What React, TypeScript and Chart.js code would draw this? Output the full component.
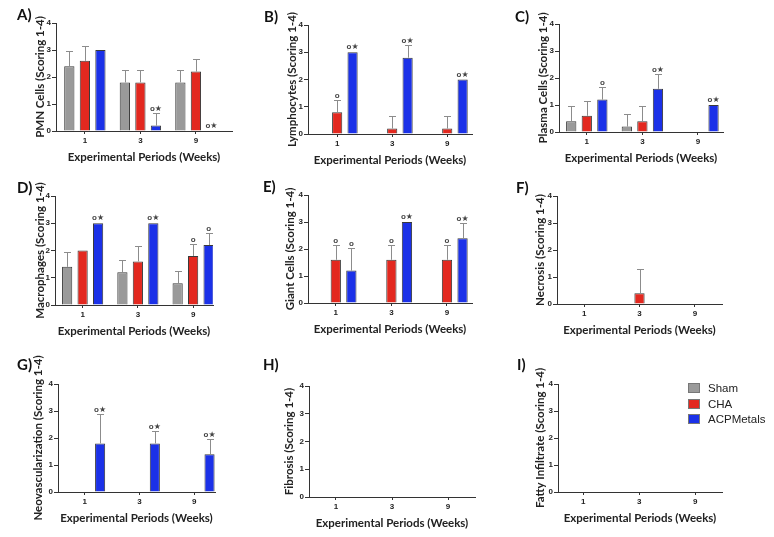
import React, { useEffect, useRef } from "react";
import { Chart, registerables } from "chart.js";

Chart.register(...registerables);

// ---------- data ----------
const weekLabels = ["1", "3", "9"];
const groupNames = ["Sham", "CHA", "ACPMetals"];
const groupColors = ["#9a9a9a", "#e3281f", "#1b31e8"];
const xAxisTitle = "Experimental Periods (Weeks)";

// rows: Sham, CHA, ACPMetals ; columns: weeks 1, 3, 9
const pmnMeans = [[2.4, 1.8, 1.8], [2.6, 1.8, 2.2], [3.0, 0.2, 0]];
const pmnSD = [[0.55, 0.45, 0.45], [0.55, 0.45, 0.45], [0, 0.45, 0]];
const pmnMarks = [["", "", ""], ["", "", ""], ["", "o★", "o★"]];

const lymphMeans = [[0, 0, 0], [0.8, 0.2, 0.2], [3.0, 2.8, 2.0]];
const lymphSD = [[0, 0, 0], [0.45, 0.45, 0.45], [0, 0.45, 0]];
const lymphMarks = [["", "", ""], ["o", "", ""], ["o★", "o★", "o★"]];

const plasmaMeans = [[0.4, 0.2, 0], [0.6, 0.4, 0], [1.2, 1.6, 1.0]];
const plasmaSD = [[0.55, 0.45, 0], [0.55, 0.55, 0], [0.45, 0.55, 0]];
const plasmaMarks = [["", "", ""], ["", "", ""], ["o", "o★", "o★"]];

const macroMeans = [[1.4, 1.2, 0.8], [2.0, 1.6, 1.8], [3.0, 3.0, 2.2]];
const macroSD = [[0.55, 0.45, 0.45], [0, 0.55, 0.45], [0, 0, 0.45]];
const macroMarks = [["", "", ""], ["", "", "o"], ["o★", "o★", "o"]];

const giantMeans = [[0, 0, 0], [1.6, 1.6, 1.6], [1.2, 3.0, 2.4]];
const giantSD = [[0, 0, 0], [0.55, 0.55, 0.55], [0.85, 0, 0.55]];
const giantMarks = [["", "", ""], ["o", "o", "o"], ["o", "o★", "o★"]];

const necrosisMeans = [[0, 0, 0], [0, 0.4, 0], [0, 0, 0]];
const necrosisSD = [[0, 0, 0], [0, 0.9, 0], [0, 0, 0]];
const necrosisMarks = [["", "", ""], ["", "", ""], ["", "", ""]];

const neoMeans = [[0, 0, 0], [0, 0, 0], [1.8, 1.8, 1.4]];
const neoSD = [[0, 0, 0], [0, 0, 0], [1.1, 0.45, 0.55]];
const neoMarks = [["", "", ""], ["", "", ""], ["o★", "o★", "o★"]];

const fibrosisMeans = [[0, 0, 0], [0, 0, 0], [0, 0, 0]];
const fibrosisSD = [[0, 0, 0], [0, 0, 0], [0, 0, 0]];
const fibrosisMarks = [["", "", ""], ["", "", ""], ["", "", ""]];

const fattyMeans = [[0, 0, 0], [0, 0, 0], [0, 0, 0]];
const fattySD = [[0, 0, 0], [0, 0, 0], [0, 0, 0]];
const fattyMarks = [["", "", ""], ["", "", ""], ["", "", ""]];

// ---------- layout ----------
type Panel = {
  letter: string;
  yTitle: string;
  means: number[][];
  sds: number[][];
  marks: string[][];
  L: number; T: number; R: number; B: number;
  xMin: number; xMax: number;
  ytOff: number;
  lx: number; ly: number;
};

const panels: Panel[] = [
  { letter: "A)", yTitle: "PMN Cells (Scoring 1-4)", means: pmnMeans, sds: pmnSD, marks: pmnMarks, L: 56, T: 23, R: 232, B: 131, xMin: -0.52, xMax: 2.65, ytOff: 16, lx: 17, ly: 10 },
  { letter: "B)", yTitle: "Lymphocytes (Scoring 1-4)", means: lymphMeans, sds: lymphSD, marks: lymphMarks, L: 308, T: 25, R: 472, B: 134, xMin: -0.53, xMax: 2.45, ytOff: 16, lx: 264, ly: 12 },
  { letter: "C)", yTitle: "Plasma Cells (Scoring 1-4)", means: plasmaMeans, sds: plasmaSD, marks: plasmaMarks, L: 559, T: 24, R: 723, B: 132, xMin: -0.5, xMax: 2.45, ytOff: 16, lx: 515, ly: 12 },
  { letter: "D)", yTitle: "Macrophages (Scoring 1-4)", means: macroMeans, sds: macroSD, marks: macroMarks, L: 55, T: 196, R: 213, B: 305, xMin: -0.5, xMax: 2.36, ytOff: 15, lx: 17, ly: 183 },
  { letter: "E)", yTitle: "Giant Cells (Scoring 1-4)", means: giantMeans, sds: giantSD, marks: giantMarks, L: 308, T: 195, R: 472, B: 303, xMin: -0.5, xMax: 2.45, ytOff: 18, lx: 263, ly: 182 },
  { letter: "F)", yTitle: "Necrosis (Scoring 1-4)", means: necrosisMeans, sds: necrosisSD, marks: necrosisMarks, L: 557, T: 196, R: 722, B: 304, xMin: -0.49, xMax: 2.49, ytOff: 17, lx: 516, ly: 183 },
  { letter: "G)", yTitle: "Neovascularization (Scoring 1-4)", means: neoMeans, sds: neoSD, marks: neoMarks, L: 58, T: 384, R: 215, B: 492, xMin: -0.49, xMax: 2.38, ytOff: 20, lx: 17, ly: 360 },
  { letter: "H)", yTitle: "Fibrosis (Scoring 1-4)", means: fibrosisMeans, sds: fibrosisSD, marks: fibrosisMarks, L: 309, T: 386, R: 475, B: 497, xMin: -0.48, xMax: 2.48, ytOff: 20, lx: 263, ly: 360 },
  { letter: "I)", yTitle: "Fatty Infiltrate (Scoring 1-4)", means: fattyMeans, sds: fattySD, marks: fattyMarks, L: 558, T: 384, R: 722, B: 492, xMin: -0.45, xMax: 2.48, ytOff: 18, lx: 517, ly: 360 },
];

const Y_W = 30;
const X_H = 36;
const M_LEFT = 56;
const M_TOP = 32;
const M_RIGHT = 12;
const M_BOTTOM = 42;
const TITLE_SIZE = 11.5;
const TITLE_LH = TITLE_SIZE * 1.2;

function PanelChart({ p }: { p: Panel }) {
  const ref = useRef<HTMLCanvasElement>(null);
  const cw = p.R - p.L + M_LEFT + M_RIGHT;
  const ch = p.B - p.T + M_TOP + M_BOTTOM;

  useEffect(() => {
    if (!ref.current) return;
    const errPlugin = {
      id: "errbarsMarks",
      afterDatasetsDraw(chart: any) {
        const ctx = chart.ctx;
        const ys = chart.scales.y;
        ctx.save();
        chart.data.datasets.forEach((_ds: any, di: number) => {
          const meta = chart.getDatasetMeta(di);
          meta.data.forEach((el: any, i: number) => {
            const v = p.means[di][i];
            const e = p.sds[di][i];
            let topPx = el.y;
            const cx = Math.round(el.x) + 0.5;
            if (e > 0) {
              const ep = Math.round(ys.getPixelForValue(v + e)) + 0.5;
              ctx.strokeStyle = "#8c8c8c";
              ctx.lineWidth = 1;
              ctx.beginPath();
              ctx.moveTo(cx, el.y);
              ctx.lineTo(cx, ep);
              ctx.moveTo(cx - 3.5, ep);
              ctx.lineTo(cx + 3.5, ep);
              ctx.stroke();
              topPx = ep;
            }
            const m = p.marks[di][i];
            if (m) {
              ctx.fillStyle = "#444";
              ctx.font = "bold 8px 'Liberation Sans', 'DejaVu Sans'";
              ctx.textAlign = "center";
              ctx.textBaseline = "bottom";
              ctx.fillText(m, el.x, topPx - 1);
            }
          });
        });
        ctx.restore();
      },
    };

    const tickFont = { family: "'Liberation Sans', Arial, sans-serif", weight: "bold" as const, size: 8 };
    const titleFont = { family: "Lato, 'Open Sans', sans-serif", weight: "bold" as const, size: TITLE_SIZE, lineHeight: 1.2 };

    const chart = new Chart(ref.current, {
      type: "bar",
      data: {
        datasets: groupNames.map((g, di) => ({
          label: g,
          data: p.means[di].map((v, i) => ({ x: i, y: v })),
          backgroundColor: groupColors[di],
          borderColor: "#3a3a3a",
          borderWidth: 1,
          categoryPercentage: 0.84,
          barPercentage: 0.66,
        })),
      },
      options: {
        animation: false,
        responsive: false,
        layout: {
          padding: { left: M_LEFT - Y_W, top: M_TOP, right: M_RIGHT, bottom: M_BOTTOM - X_H },
        },
        plugins: { legend: { display: false }, tooltip: { enabled: false } },
        scales: {
          x: {
            type: "linear",
            offset: false,
            min: p.xMin,
            max: p.xMax,
            afterBuildTicks: (s: any) => {
              s.ticks = weekLabels.map((_w, i) => ({ value: i }));
            },
            afterFit: (s: any) => {
              s.height = X_H;
            },
            ticks: {
              callback: (_v: any, i: number) => weekLabels[i],
              font: tickFont,
              color: "#222",
              padding: 2,
              maxRotation: 0,
              autoSkip: false,
            },
            grid: { display: true, offset: false, drawOnChartArea: false, drawTicks: true, tickLength: 3, color: "#333", lineWidth: 1 },
            border: { display: true, color: "#333", width: 1 },
            title: {
              display: true,
              text: xAxisTitle,
              font: titleFont,
              color: "#222",
              padding: { top: 0, bottom: X_H - 26 - TITLE_LH / 2 },
            },
          },
          y: {
            type: "linear",
            min: 0,
            max: 4,
            afterFit: (s: any) => {
              s.width = Y_W;
            },
            ticks: { stepSize: 1, font: tickFont, color: "#222", padding: 1 },
            grid: { display: true, drawOnChartArea: false, drawTicks: true, tickLength: 4, color: "#333", lineWidth: 1 },
            border: { display: true, color: "#333", width: 1 },
            title: {
              display: true,
              text: p.yTitle,
              font: titleFont,
              color: "#222",
              padding: { top: Y_W - p.ytOff - TITLE_LH / 2, bottom: 0 },
            },
          },
        },
      } as any,
      plugins: [errPlugin],
    });
    return () => chart.destroy();
  }, []);

  return (
    <canvas
      ref={ref}
      width={cw}
      height={ch}
      style={{ position: "absolute", left: p.L - M_LEFT, top: p.T - M_TOP, width: cw, height: ch }}
    />
  );
}

export default function App() {
  return (
    <div style={{ position: "fixed", left: 0, top: 0, width: 774, height: 537, background: "#fff", overflow: "hidden" }}>
      {panels.map((p) => (
        <PanelChart key={p.letter} p={p} />
      ))}
      {panels.map((p) => (
        <div
          key={"l" + p.letter}
          style={{
            position: "absolute",
            left: p.lx,
            top: p.ly - 2.6,
            font: "bold 15px Lato, 'Open Sans', sans-serif",
            lineHeight: "15px",
            color: "#111",
          }}
        >
          {p.letter}
        </div>
      ))}
      {groupNames.map((g, i) => (
        <div
          key={"lg" + g}
          style={{ position: "absolute", left: 688, top: 388 + i * 15.5 - 7, height: 14, display: "flex", alignItems: "center" }}
        >
          <div style={{ width: 12, height: 10, background: groupColors[i], border: "1px solid #777", boxSizing: "border-box" as const }} />
          <span style={{ marginLeft: 8, font: "11.5px 'Liberation Sans', Arial, sans-serif", color: "#222" }}>{g}</span>
        </div>
      ))}
    </div>
  );
}
